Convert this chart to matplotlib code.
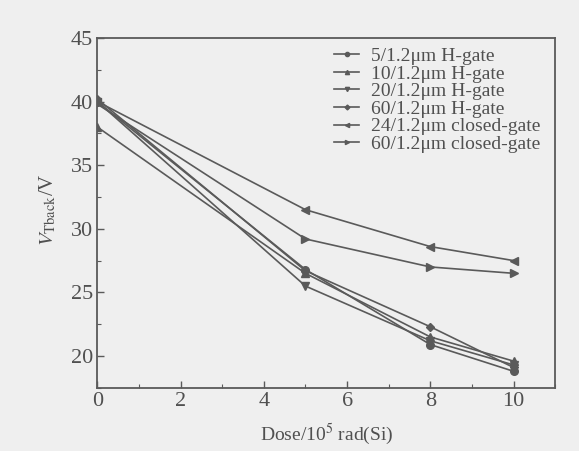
import matplotlib
matplotlib.use("Agg")
import matplotlib.pyplot as plt
from matplotlib.ticker import MultipleLocator

dose = [0, 5, 8, 10]
labels = ["5/1.2\u03bcm H-gate", "10/1.2\u03bcm H-gate", "20/1.2\u03bcm H-gate",
          "60/1.2\u03bcm H-gate", "24/1.2\u03bcm closed-gate", "60/1.2\u03bcm closed-gate"]
h5 = [40.0, 26.8, 20.9, 18.8]
h10 = [38.0, 26.5, 21.5, 19.6]
h20 = [40.0, 25.5, 21.2, 19.3]
h60 = [40.2, 26.7, 22.3, 19.1]
c24 = [40.0, 31.5, 28.6, 27.5]
c60 = [39.8, 29.2, 27.0, 26.5]
series = [h5, h10, h20, h60, c24, c60]
markers = ["o", "^", "v", "D", "<", ">"]

plt.rcParams['font.family'] = ['Liberation Serif', 'DejaVu Serif']
plt.rcParams['mathtext.fontset'] = 'stix'

fig = plt.figure(figsize=(5.79, 4.51), dpi=100)
fig.patch.set_facecolor('#efefef')
ax = fig.add_axes([0.168, 0.140, 0.791, 0.776])
ax.set_facecolor('#efefef')
col = '#5a5a5a'
for ys, m, lab in zip(series, markers, labels):
    ms = 4.5 if m == "D" else 5.5
    ax.plot(dose, ys, color=col, lw=1.2, marker=m, ms=ms, mfc=col, mec=col, label=lab)

ax.set_xlim(0, 11)
ax.set_ylim(17.5, 45)
ax.set_xticks([0, 2, 4, 6, 8, 10])
ax.set_yticks([20, 25, 30, 35, 40, 45])
ax.xaxis.set_minor_locator(MultipleLocator(1))
ax.yaxis.set_minor_locator(MultipleLocator(2.5))
ax.tick_params(which='both', direction='in', colors=col, labelcolor='#505050', labelsize=16)
ax.tick_params(which='major', length=5, width=1, pad=3)
ax.tick_params(which='minor', length=3, width=0.8)
for s in ax.spines.values():
    s.set_color(col)
    s.set_linewidth(1.3)
ax.set_xlabel("Dose/10$^5$ rad(Si)", fontsize=14, color='#505050')
ax.set_ylabel("$V_{\\rm Tback}$/V", fontsize=15, color='#505050')
ax.xaxis.set_label_coords(0.5, -0.098)
ax.yaxis.set_label_coords(-0.085, 0.51)
leg = ax.legend(loc='upper left', frameon=False, fontsize=14, handlelength=1.3,
                labelspacing=0.0, handletextpad=0.6, borderaxespad=0.0,
                markerscale=0.55, bbox_to_anchor=(0.50, 0.995))
for t in leg.get_texts():
    t.set_color('#505050')
fig.savefig("out.png", dpi=100, facecolor=fig.get_facecolor())
